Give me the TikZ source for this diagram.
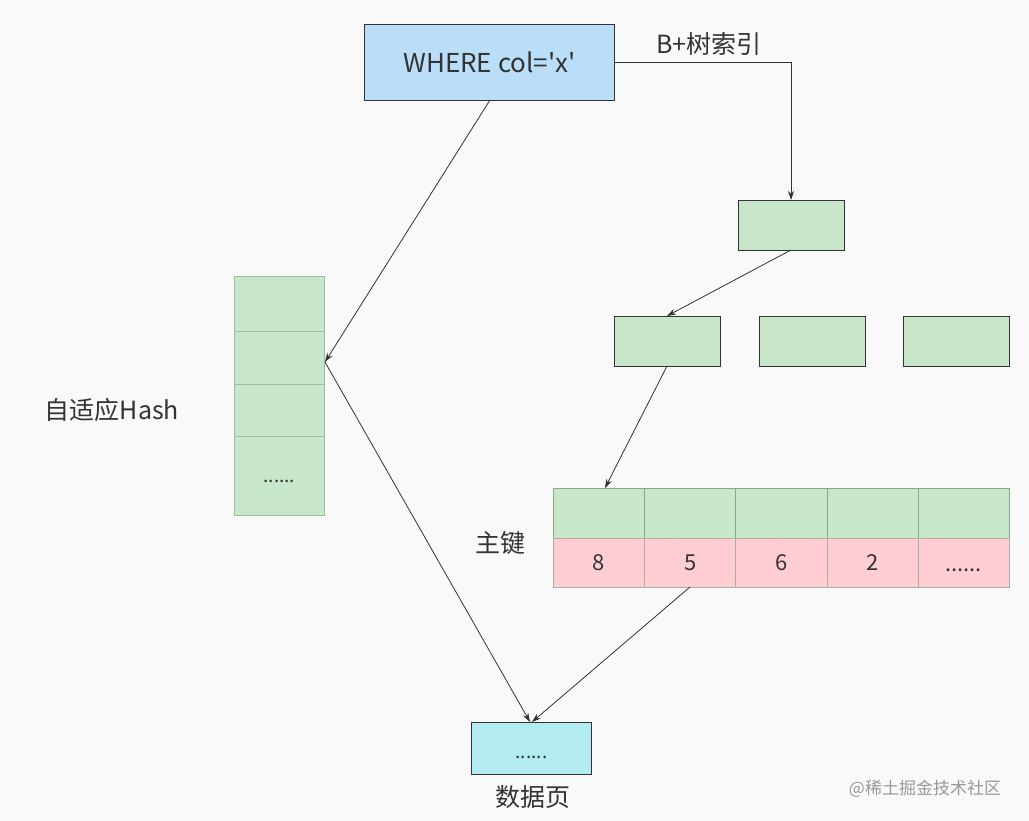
\documentclass[tikz,border=0pt]{standalone}
\usepackage{fontspec}
\newfontfamily\cjk{Noto Sans CJK SC}
\usetikzlibrary{arrows.meta}
\definecolor{bg}{HTML}{F9F9F9}
\definecolor{qblue}{HTML}{BBDEF8}
\definecolor{tgreen}{HTML}{C8E6CA}
\definecolor{tpink}{HTML}{FFCDD3}
\definecolor{pcyan}{HTML}{B2EBF0}
\definecolor{edge}{HTML}{333333}
\definecolor{cellline}{HTML}{88A88C}
\definecolor{txt}{HTML}{333333}
\newcommand{\lowdots}[1]{\smash{\raisebox{-#1pt}{......}}}
\tikzset{
  x=1pt,y=-1pt,
  box/.style={draw=edge,line width=0.9pt,inner sep=0pt,anchor=north west},
  treebox/.style={box,fill=tgreen,minimum width=106pt,minimum height=50pt},
  cellg/.style={draw=cellline,line width=0.7pt,fill=tgreen,inner sep=0pt,anchor=north west,minimum width=91.2pt,minimum height=50pt},
  cellp/.style={draw=cellline!70!pink,line width=0.7pt,fill=tpink,inner sep=0pt,anchor=north west,minimum width=91.2pt,minimum height=49pt,font=\cjk\fontsize{22}{26}\selectfont,text=txt},
  hcell/.style={draw=cellline!80,line width=0.6pt,fill=tgreen,inner sep=0pt,anchor=north west,minimum width=90pt},
  lbl/.style={font=\cjk\fontsize{25}{30}\selectfont,text=txt},
  conn/.style={draw=edge,line width=0.8pt,-{Stealth[length=9pt,width=6pt]}},
}
\begin{document}
\begin{tikzpicture}
\fill[bg] (0,0) rectangle (1029,821);
\useasboundingbox (0,0) rectangle (1029,821);
% query box
\node[box,fill=qblue,minimum width=250pt,minimum height=76pt,font=\cjk\fontsize{26}{30}\selectfont,text=txt] (q) at (364,24) {WHERE col='x'};
\node[lbl] (blabel) at (709,44) {B+树索引};
% tree
\node[treebox] (root) at (738,200) {};
\node[treebox] (n1) at (614,316) {};
\node[treebox] (n2) at (759,316) {};
\node[treebox] (n3) at (903,316) {};
% leaf table
\foreach \i/\v in {0/8,1/5,2/6,3/2}{
  \node[cellg] (g\i) at (553+\i*91.2,488) {};
  \node[cellp] (p\i) at (553+\i*91.2,538) {\v};
}
\node[cellg] (g4) at (917.8,488) {};
\node[cellp] (p4) at (917.8,538) {\lowdots{9}};
\node[lbl] (pk) at (500,543) {主键};
% hash column
\node[hcell,minimum height=55pt] (h0) at (234,276) {};
\node[hcell,minimum height=53pt] (h1) at (234,331) {};
\node[hcell,minimum height=52pt] (h2) at (234,384) {};
\node[hcell,minimum height=79pt,font=\cjk\fontsize{19}{22}\selectfont,text=txt] (h3) at (234,436) {\lowdots{7}};
\node[lbl] (hl) at (112,410) {自适应Hash};
% data page
\node[box,fill=pcyan,minimum width=120pt,minimum height=52pt,font=\cjk\fontsize{19}{22}\selectfont,text=txt] (dp) at (471,722) {\lowdots{10}};
\node[lbl] (dpl) at (533,797) {数据页};
\node[font=\cjk\fontsize{17}{20}\selectfont,text=black!40] (wm) at (925,789) {@稀土掘金技术社区};
% connectors
\coordinate (qr) at (614,62);
\coordinate (rt) at (791,200);
\draw[conn] (qr) -| (rt);
\coordinate (rb) at (791,250);
\coordinate (n1t) at (667,316);
\draw[conn] (rb) -- (n1t);
\coordinate (n1b) at (667,366);
\coordinate (g0t) at (605,488);
\draw[conn] (n1b) -- (g0t);
\coordinate (qb) at (490,100);
\coordinate (hr) at (325,362);
\draw[conn] (qb) -- (hr);
\coordinate (dpt) at (530,722);
\draw[conn] (hr) -- (dpt);
\coordinate (p1b) at (690,587);
\coordinate (dpt2) at (532,722);
\draw[conn] (p1b) -- (dpt2);
\end{tikzpicture}
\end{document}
